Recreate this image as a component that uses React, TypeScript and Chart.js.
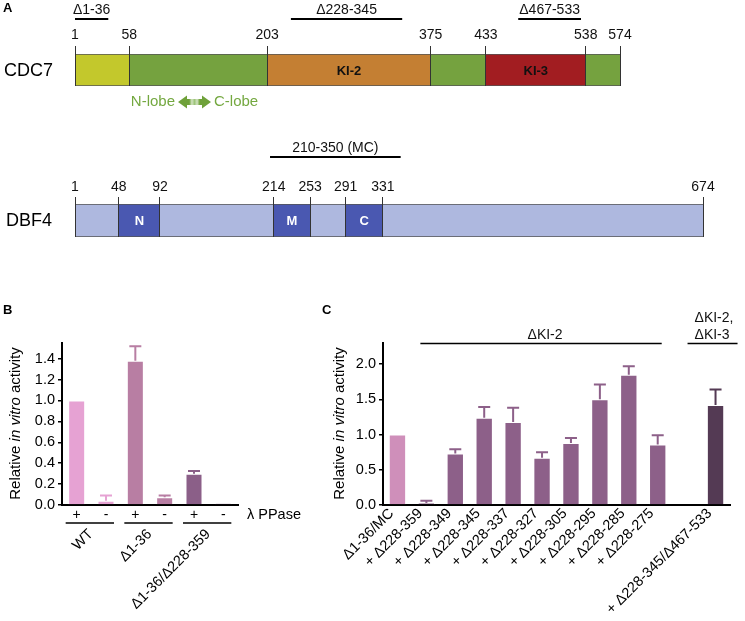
import React, { useEffect, useRef } from 'react';
import { Chart, registerables } from 'chart.js';

Chart.register(...registerables);

const FONT = '"Liberation Sans", Arial, Helvetica, sans-serif';

// ---------- Panel A : CDC7 ----------
const cdc7Name = 'CDC7';
const cdc7Length = 574;
const cdc7Starts = [1, 58, 203, 375, 433, 538];
const cdc7Ends = [58, 203, 375, 433, 538, 574];
const cdc7Colors = ['#c3c82c', '#75a23f', '#c47f33', '#75a23f', '#a21d21', '#75a23f'];
const cdc7SegLabels = ['', '', 'KI-2', '', 'KI-3', ''];
const cdc7Ticks = [1, 58, 203, 375, 433, 538, 574];
const cdc7DelLabels = ['Δ1-36', 'Δ228-345', 'Δ467-533'];
const cdc7DelFrom = [1, 228, 467];
const cdc7DelTo = [36, 345, 533];

// ---------- Panel A : DBF4 ----------
const dbf4Name = 'DBF4';
const dbf4Length = 674;
const dbf4Starts = [1, 48, 92, 214, 253, 291, 331];
const dbf4Ends = [48, 92, 214, 253, 291, 331, 674];
const dbf4Colors = ['#aeb8df', '#4a58b1', '#aeb8df', '#4a58b1', '#aeb8df', '#4a58b1', '#aeb8df'];
const dbf4SegLabels = ['', 'N', '', 'M', '', 'C', ''];
const dbf4Ticks = [1, 48, 92, 214, 253, 291, 331, 674];
const dbf4DelLabels = ['210-350 (MC)'];
const dbf4DelFrom = [210];
const dbf4DelTo = [350];

// ---------- Panel B ----------
const bTreatments = ['+', '-', '+', '-', '+', '-'];
const bGroups = ['WT', 'Δ1-36', 'Δ1-36/Δ228-359'];
const bValues = [1.0, 0.04, 1.38, 0.075, 0.3, 0.015];
const bErrors = [0, 0.05, 0.14, 0.015, 0.025, 0];
const bColors = ['#e6a2d3', '#e6a2d3', '#b87ea3', '#b87ea3', '#8b5f88', '#8b5f88'];
const bYTicks = [0, 0.2, 0.4, 0.6, 0.8, 1.0, 1.2, 1.4];
const bYMax = 1.55;

// ---------- Panel C ----------
const cLabels = [
  'Δ1-36/MC',
  '+ Δ228-359',
  '+ Δ228-349',
  '+ Δ228-345',
  '+ Δ228-337',
  '+ Δ228-327',
  '+ Δ228-305',
  '+ Δ228-295',
  '+ Δ228-285',
  '+ Δ228-275',
  '',
  '+ Δ228-345/Δ467-533',
];
const cValues = [1.0, 0.03, 0.73, 1.24, 1.18, 0.67, 0.88, 1.5, 1.85, 0.86, null, 1.42];
const cErrors = [0, 0.03, 0.06, 0.15, 0.2, 0.08, 0.07, 0.21, 0.12, 0.13, 0, 0.22];
const cColors = [
  '#cf8fba', '#8d6089', '#8d6089', '#8d6089', '#8d6089', '#8d6089',
  '#8d6089', '#8d6089', '#8d6089', '#8d6089', '#8d6089', '#543a54',
];
const cYTicks = [0, 0.5, 1.0, 1.5, 2.0];
const cYMax = 2.3;

const yTitleParts: [string, boolean][] = [['Relative ', false], ['in vitro', true], [' activity', false]];

function drawYTitle(ctx: CanvasRenderingContext2D, cx: number, cy: number) {
  const size = 15;
  ctx.save();
  ctx.translate(cx, cy);
  ctx.rotate(-Math.PI / 2);
  ctx.textBaseline = 'middle';
  ctx.textAlign = 'left';
  ctx.fillStyle = '#000';
  const fonts = yTitleParts.map((p) => `${p[1] ? 'italic ' : ''}${size}px ${FONT}`);
  const widths = yTitleParts.map((p, i) => {
    ctx.font = fonts[i];
    return ctx.measureText(p[0]).width;
  });
  const total = widths.reduce((a, b) => a + b, 0);
  let x = -total / 2;
  yTitleParts.forEach((p, i) => {
    ctx.font = fonts[i];
    ctx.fillText(p[0], x, 0);
    x += widths[i];
  });
  ctx.restore();
}

function drawLetter(ctx: CanvasRenderingContext2D, t: string, x: number, y: number) {
  ctx.save();
  ctx.font = `bold 13px ${FONT}`;
  ctx.fillStyle = '#000';
  ctx.textAlign = 'left';
  ctx.textBaseline = 'middle';
  ctx.fillText(t, x, y);
  ctx.restore();
}

function drawDoubleArrow(ctx: CanvasRenderingContext2D, x1: number, x2: number, y: number) {
  const head = 9, bodyH = 3, headH = 6.5;
  ctx.save();
  ctx.beginPath();
  ctx.moveTo(x1, y);
  ctx.lineTo(x1 + head, y - headH);
  ctx.lineTo(x1 + head, y - bodyH);
  ctx.lineTo(x2 - head, y - bodyH);
  ctx.lineTo(x2 - head, y - headH);
  ctx.lineTo(x2, y);
  ctx.lineTo(x2 - head, y + headH);
  ctx.lineTo(x2 - head, y + bodyH);
  ctx.lineTo(x1 + head, y + bodyH);
  ctx.lineTo(x1 + head, y + headH);
  ctx.closePath();
  const g = ctx.createLinearGradient(x1, 0, x2, 0);
  g.addColorStop(0, '#6fa13a');
  g.addColorStop(0.34, '#6fa13a');
  g.addColorStop(0.42, '#d3e3c2');
  g.addColorStop(0.5, '#9dc47a');
  g.addColorStop(0.58, '#d3e3c2');
  g.addColorStop(0.66, '#6fa13a');
  g.addColorStop(1, '#6fa13a');
  ctx.fillStyle = g;
  ctx.fill();
  ctx.restore();
}

const errorBarPlugin = {
  id: 'errorBars',
  afterDatasetsDraw(chart: any) {
    const ctx = chart.ctx;
    const ys = chart.scales.y;
    chart.data.datasets.forEach((ds: any, di: number) => {
      const errs = ds.errs;
      if (!errs) return;
      const meta = chart.getDatasetMeta(di);
      meta.data.forEach((el: any, i: number) => {
        const v = ds.data[i];
        const e = errs[i];
        if (v == null || !e) return;
        const x = el.x;
        const y0 = ys.getPixelForValue(v);
        const y1 = ys.getPixelForValue(v + e);
        const col = Array.isArray(ds.backgroundColor) ? ds.backgroundColor[i] : ds.backgroundColor;
        ctx.save();
        ctx.strokeStyle = col;
        ctx.lineWidth = 2;
        ctx.beginPath();
        ctx.moveTo(x, y0);
        ctx.lineTo(x, y1);
        ctx.moveTo(x - 6, y1);
        ctx.lineTo(x + 6, y1);
        ctx.stroke();
        ctx.restore();
      });
    });
  },
};

function domainChart(canvas: HTMLCanvasElement, o: any) {
  return new Chart(canvas, {
    type: 'bar',
    data: {
      labels: [o.name],
      datasets: o.starts.map((s: number, i: number) => ({
        data: [[s, o.ends[i]]],
        backgroundColor: o.colors[i],
        borderColor: '#555555',
        borderWidth: { top: 1, bottom: 1, left: 0, right: 0 },
        borderSkipped: false,
        grouped: false,
        barPercentage: 1,
        categoryPercentage: 1,
        segLabel: o.segLabels[i],
      })),
    } as any,
    options: {
      indexAxis: 'y',
      responsive: false,
      animation: false,
      devicePixelRatio: 1,
      layout: { padding: o.padding },
      plugins: { legend: { display: false }, tooltip: { enabled: false } },
      scales: {
        x: {
          type: 'linear',
          position: 'top',
          min: 1,
          max: o.length,
          afterBuildTicks: (s: any) => {
            s.ticks = o.ticks.map((v: number) => ({ value: v }));
          },
          afterFit: (s: any) => {
            s.height = 30;
          },
          ticks: {
            autoSkip: false,
            maxRotation: 0,
            padding: o.tickPad,
            color: '#111',
            font: { size: 14, family: FONT },
            callback: (v: any) => String(v),
          },
          grid: { drawOnChartArea: true, drawTicks: true, tickLength: o.tickLen, color: '#333', lineWidth: 1, z: 1 },
          border: { display: false },
        },
        y: { display: false },
      },
    } as any,
    plugins: [
      {
        id: 'domainDecor',
        afterDraw(chart: any) {
          const ctx = chart.ctx;
          const xs = chart.scales.x;
          const ca = chart.chartArea;
          ctx.save();
          // protein name
          ctx.font = `18px ${FONT}`;
          ctx.fillStyle = '#000';
          ctx.textAlign = 'left';
          ctx.textBaseline = 'middle';
          ctx.fillText(o.name, o.nameX, (ca.top + ca.bottom) / 2 + 1);
          // segment labels
          chart.data.datasets.forEach((ds: any, di: number) => {
            if (!ds.segLabel) return;
            const el = chart.getDatasetMeta(di).data[0];
            const c = el.getCenterPoint();
            ctx.font = `bold 13px ${FONT}`;
            ctx.fillStyle = o.segLabelColor;
            ctx.textAlign = 'center';
            ctx.textBaseline = 'middle';
            ctx.fillText(ds.segLabel, c.x, c.y + 1);
          });
          // deletion / region lines
          o.delLabels.forEach((lab: string, i: number) => {
            const x1 = xs.getPixelForValue(o.delFrom[i]);
            const x2 = xs.getPixelForValue(o.delTo[i]);
            ctx.strokeStyle = '#000';
            ctx.lineWidth = 2;
            ctx.beginPath();
            ctx.moveTo(x1, o.delY);
            ctx.lineTo(x2, o.delY);
            ctx.stroke();
            ctx.font = `14px ${FONT}`;
            ctx.fillStyle = '#111';
            ctx.textAlign = 'center';
            ctx.textBaseline = 'middle';
            ctx.fillText(lab, (x1 + x2) / 2, o.delY - 8.5);
          });
          if (o.extra) o.extra(ctx, chart);
          ctx.restore();
        },
      },
    ],
  });
}

function barChart(canvas: HTMLCanvasElement, o: any) {
  return new Chart(canvas, {
    type: 'bar',
    data: {
      labels: o.labels,
      datasets: [
        {
          data: o.values,
          errs: o.errors,
          backgroundColor: o.colors,
          borderColor: 'rgba(255,255,255,0.5)',
          borderWidth: 1,
          barPercentage: o.barPct,
          categoryPercentage: 1,
        },
      ],
    } as any,
    options: {
      responsive: false,
      animation: false,
      devicePixelRatio: 1,
      layout: { padding: o.padding },
      plugins: { legend: { display: false }, tooltip: { enabled: false } },
      scales: {
        x: {
          ticks: {
            autoSkip: false,
            minRotation: o.rot,
            maxRotation: o.rot,
            padding: o.xPad,
            labelOffset: o.labelOffset,
            color: '#000',
            font: { size: o.xFont, family: FONT },
          },
          grid: { display: false, drawTicks: false },
          border: { display: true, color: '#000', width: 2 },
          afterFit: (s: any) => {
            s.height = o.xHeight;
          },
        },
        y: {
          min: 0,
          max: o.yMax,
          afterBuildTicks: (s: any) => {
            s.ticks = o.yTicks.map((v: number) => ({ value: v }));
          },
          afterFit: (s: any) => {
            s.width = o.yWidth;
          },
          ticks: {
            padding: 3,
            color: '#000',
            font: { size: 14.5, family: FONT },
            callback: (v: any) => Number(v).toFixed(1),
          },
          grid: { drawOnChartArea: false, drawTicks: true, tickLength: 4, color: '#000', lineWidth: 1.5 },
          border: { display: true, color: '#000', width: 2 },
        },
      },
    } as any,
    plugins: [errorBarPlugin, { id: 'decor', afterDraw: (chart: any) => o.decor(chart) }],
  });
}

export default function App() {
  const a1 = useRef<HTMLCanvasElement>(null);
  const a2 = useRef<HTMLCanvasElement>(null);
  const b = useRef<HTMLCanvasElement>(null);
  const c = useRef<HTMLCanvasElement>(null);

  useEffect(() => {
    Chart.defaults.font.family = FONT;
    Chart.defaults.color = '#000';
    const charts: Chart[] = [];

    charts.push(
      domainChart(a1.current!, {
        name: cdc7Name,
        length: cdc7Length,
        starts: cdc7Starts,
        ends: cdc7Ends,
        colors: cdc7Colors,
        segLabels: cdc7SegLabels,
        segLabelColor: '#111',
        ticks: cdc7Ticks,
        delLabels: cdc7DelLabels,
        delFrom: cdc7DelFrom,
        delTo: cdc7DelTo,
        delY: 19,
        tickLen: 8,
        tickPad: 2,
        nameX: 4,
        padding: { left: 75, right: 125, top: 24, bottom: 34 },
        extra: (ctx: CanvasRenderingContext2D) => {
          drawLetter(ctx, 'A', 3, 8);
          ctx.font = `15px ${FONT}`;
          ctx.fillStyle = '#74a840';
          ctx.textBaseline = 'middle';
          ctx.textAlign = 'right';
          ctx.fillText('N-lobe', 175, 102);
          ctx.textAlign = 'left';
          ctx.fillText('C-lobe', 214, 102);
          drawDoubleArrow(ctx, 178, 211, 102);
        },
      })
    );

    charts.push(
      domainChart(a2.current!, {
        name: dbf4Name,
        length: dbf4Length,
        starts: dbf4Starts,
        ends: dbf4Ends,
        colors: dbf4Colors,
        segLabels: dbf4SegLabels,
        segLabelColor: '#ffffff',
        ticks: dbf4Ticks,
        delLabels: dbf4DelLabels,
        delFrom: dbf4DelFrom,
        delTo: dbf4DelTo,
        delY: 27,
        tickLen: 7,
        tickPad: 1,
        nameX: 6,
        padding: { left: 75, right: 42, top: 44, bottom: 13 },
      })
    );

    charts.push(
      barChart(b.current!, {
        labels: bTreatments,
        values: bValues,
        errors: bErrors,
        colors: bColors,
        barPct: 0.58,
        rot: 0,
        xPad: 2,
        labelOffset: 0,
        xFont: 14,
        xHeight: 116,
        yMax: bYMax,
        yTicks: bYTicks,
        yWidth: 62,
        padding: { left: 0, right: 82, top: 53, bottom: 0 },
        decor: (chart: any) => {
          const ctx = chart.ctx;
          const xs = chart.scales.x;
          ctx.save();
          drawLetter(ctx, 'B', 3, 20);
          drawYTitle(ctx, 16, 133.5);
          ctx.font = `14.5px ${FONT}`;
          ctx.fillStyle = '#000';
          ctx.textAlign = 'left';
          ctx.textBaseline = 'middle';
          ctx.fillText('λ PPase', 247, 225);
          bGroups.forEach((g, i) => {
            const p1 = xs.getPixelForValue(2 * i);
            const p2 = xs.getPixelForValue(2 * i + 1);
            ctx.strokeStyle = '#000';
            ctx.lineWidth = 1.5;
            ctx.beginPath();
            ctx.moveTo(p1 - 11, 233);
            ctx.lineTo(p2 + 8, 233);
            ctx.stroke();
            ctx.save();
            ctx.translate((p1 + p2) / 2 - 0.5, 242);
            ctx.rotate(-Math.PI / 4);
            ctx.font = `14.5px ${FONT}`;
            ctx.textAlign = 'right';
            ctx.textBaseline = 'middle';
            ctx.fillText(g, 0, 0);
            ctx.restore();
          });
          ctx.restore();
        },
      })
    );

    charts.push(
      barChart(c.current!, {
        labels: cLabels,
        values: cValues,
        errors: cErrors,
        colors: cColors,
        barPct: 0.6,
        rot: 45,
        xPad: 0,
        labelOffset: -6,
        xFont: 14.5,
        xHeight: 116,
        yMax: cYMax,
        yTicks: cYTicks,
        yWidth: 63,
        padding: { left: 0, right: 15, top: 53, bottom: 0 },
        decor: (chart: any) => {
          const ctx = chart.ctx;
          const xs = chart.scales.x;
          const ca = chart.chartArea;
          ctx.save();
          drawLetter(ctx, 'C', 2, 20);
          drawYTitle(ctx, 20, 133.5);
          ctx.strokeStyle = '#000';
          ctx.lineWidth = 1.5;
          const y = ca.top + 0.5;
          const l1 = xs.getPixelForValue(1) - 6;
          const r1 = xs.getPixelForValue(9) + 4;
          ctx.beginPath();
          ctx.moveTo(l1, y);
          ctx.lineTo(r1, y);
          ctx.stroke();
          const cx2 = xs.getPixelForValue(11);
          ctx.beginPath();
          ctx.moveTo(cx2 - 28, y);
          ctx.lineTo(cx2 + 22, y);
          ctx.stroke();
          ctx.font = `14px ${FONT}`;
          ctx.fillStyle = '#111';
          ctx.textBaseline = 'middle';
          ctx.textAlign = 'center';
          ctx.fillText('ΔKI-2', (l1 + r1) / 2 + 4, 45);
          ctx.textAlign = 'left';
          ctx.fillText('ΔKI-2,', cx2 - 21, 28);
          ctx.fillText('ΔKI-3', cx2 - 21, 45);
          ctx.restore();
        },
      })
    );

    return () => charts.forEach((ch) => ch.destroy());
  }, []);

  return (
    <div style={{ position: 'absolute', left: 0, top: 0, width: 745, height: 621, background: '#fff', overflow: 'hidden' }}>
      <canvas ref={a1} width={745} height={120} style={{ position: 'absolute', left: 0, top: 0 }} />
      <canvas ref={a2} width={745} height={120} style={{ position: 'absolute', left: 0, top: 130 }} />
      <canvas ref={b} width={320} height={331} style={{ position: 'absolute', left: 0, top: 290 }} />
      <canvas ref={c} width={425} height={331} style={{ position: 'absolute', left: 320, top: 290 }} />
    </div>
  );
}
